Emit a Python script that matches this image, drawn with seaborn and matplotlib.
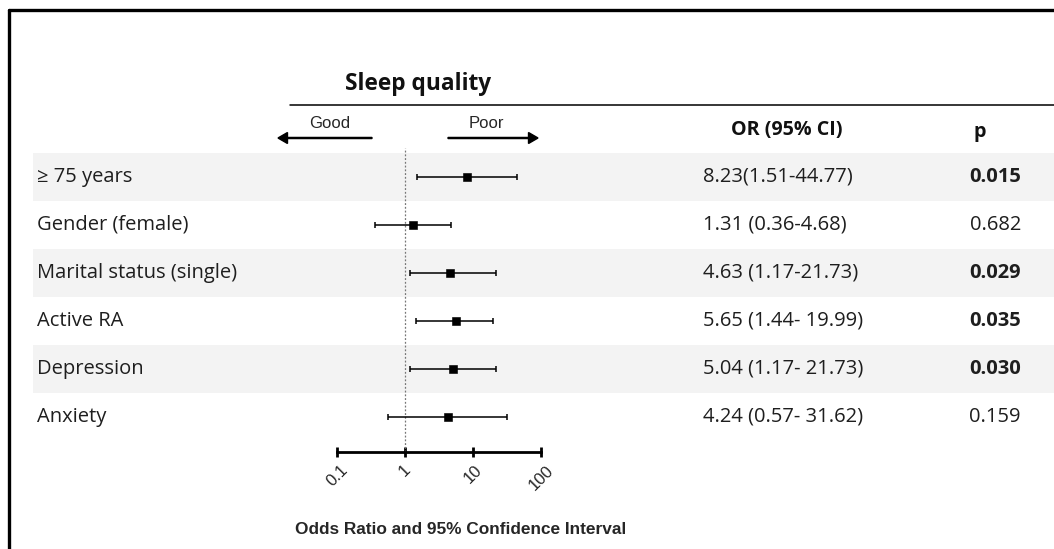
import numpy as np
import pandas as pd
import seaborn as sns
import matplotlib.pyplot as plt
from matplotlib.lines import Line2D
from matplotlib.patches import FancyArrow

# data
labels = ["\u2265 75 years", "Gender (female)", "Marital status (single)",
          "Active RA", "Depression", "Anxiety"]
odds = [8.23, 1.31, 4.63, 5.65, 5.04, 4.24]
lower = [1.51, 0.36, 1.17, 1.44, 1.17, 0.57]
upper = [44.77, 4.68, 21.73, 19.99, 21.73, 31.62]
or_text = ["8.23(1.51-44.77)", "1.31 (0.36-4.68)", "4.63 (1.17-21.73)",
           "5.65 (1.44- 19.99)", "5.04 (1.17- 21.73)", "4.24 (0.57- 31.62)"]
p_text = ["0.015", "0.682", "0.029", "0.035", "0.030", "0.159"]
p_bold = [True, False, True, True, True, False]
ticks = [0.1, 1, 10, 100]
tick_labels = ["0.1", "1", "10", "100"]

df = pd.DataFrame({"label": labels, "OR": odds, "lo": lower, "hi": upper,
                   "row": range(len(labels))})

sns.set_theme(style="white")
plt.rcParams['font.family'] = ['Open Sans', 'DejaVu Sans']

W, H = 1054, 549
fig = plt.figure(figsize=(W / 100, H / 100), dpi=100)

def fx(px):
    return px / W

def fy(py):
    return 1 - py / H

ylim = (5.73, -0.6)
bottom, top = fy(452), fy(148)
txt = "#1e1e1e"
fs = 14.5

# table axes (full width, shares rows)
tab = fig.add_axes([0, bottom, 1, top - bottom])
tab.set_xlim(0, W)
tab.set_ylim(*ylim)
tab.axis("off")
for i in df["row"]:
    if i % 2 == 0:
        tab.axhspan(i - 0.5, i + 0.5, xmin=33 / W, xmax=1, color="#f3f3f3", lw=0, zorder=0)
for i, r in df.iterrows():
    tab.text(37, r["row"], r["label"], ha="left", va="center", fontsize=fs, color=txt)
    tab.text(703, r["row"], or_text[i], ha="left", va="center", fontsize=fs, color=txt)
    tab.text(1021, r["row"], p_text[i], ha="right", va="center", fontsize=fs,
             fontweight="bold" if p_bold[i] else "normal", color=txt)

# forest axes
ax = fig.add_axes([fx(337), bottom, fx(541) - fx(337), top - bottom])
ax.patch.set_visible(False)
ax.set_xscale("log")
ax.set_xlim(0.1, 100)
ax.set_ylim(*ylim)
ax.axvline(1, color="#777777", ls=(0, (1.5, 1.5)), lw=0.9, zorder=1)
ax.errorbar(df["OR"], df["row"],
            xerr=[df["OR"] - df["lo"], df["hi"] - df["OR"]],
            fmt="none", ecolor="black", elinewidth=1.1, capsize=2.5, capthick=1.1, zorder=2)
sns.scatterplot(data=df, x="OR", y="row", marker="s", s=28, color="black",
                edgecolor="black", ax=ax, zorder=3, legend=False)
for s in ["top", "right", "left"]:
    ax.spines[s].set_visible(False)
ax.spines["bottom"].set_linewidth(2)
ax.spines["bottom"].set_color("black")
ax.set_yticks([])
ax.set_xticks(ticks)
ax.set_xticklabels(tick_labels, rotation=45, ha="center", family="Liberation Sans", fontsize=12)
ax.minorticks_off()
ax.tick_params(axis="x", direction="inout", length=7, width=2, color="black", pad=4, bottom=True)
ax.set_xlabel("")
ax.set_ylabel("")

# headers
fig.text(fx(418), fy(84), "Sleep quality", ha="center", va="center", fontsize=16.3, fontweight="bold",
         color="#111111")
fig.add_artist(Line2D([fx(290), 1], [fy(105), fy(105)], color="black", lw=1.1))
fig.text(fx(330), fy(124), "Good", ha="center", va="center", fontsize=12, family="Liberation Sans")
fig.text(fx(486), fy(124), "Poor", ha="center", va="center", fontsize=12, family="Liberation Sans")
fig.add_artist(FancyArrow(fx(372), fy(138), fx(278) - fx(372), 0, width=0.002, head_width=0.02,
                          head_length=0.009, length_includes_head=True, color="black",
                          transform=fig.transFigure))
fig.add_artist(FancyArrow(fx(448), fy(138), fx(538) - fx(448), 0, width=0.002, head_width=0.02,
                          head_length=0.009, length_includes_head=True, color="black",
                          transform=fig.transFigure))
fig.text(fx(787), fy(130), "OR (95% CI)", ha="center", va="center", fontsize=14.2, fontweight="bold",
         color="#111111")
fig.text(fx(980), fy(132), "p", ha="center", va="center", fontsize=14.2, fontweight="bold",
         color="#111111")
fig.text(fx(461), fy(530), "Odds Ratio and 95% Confidence Interval", ha="center", va="center",
         fontsize=12.4, fontweight="bold", family="Liberation Sans")

# frame
fig.add_artist(Line2D([fx(8.5), 1], [fy(9.5), fy(9.5)], color="black", lw=2.4))
fig.add_artist(Line2D([fx(8.5), fx(8.5)], [fy(9.5), 0], color="black", lw=2.4))

fig.savefig("out.png", dpi=100)
